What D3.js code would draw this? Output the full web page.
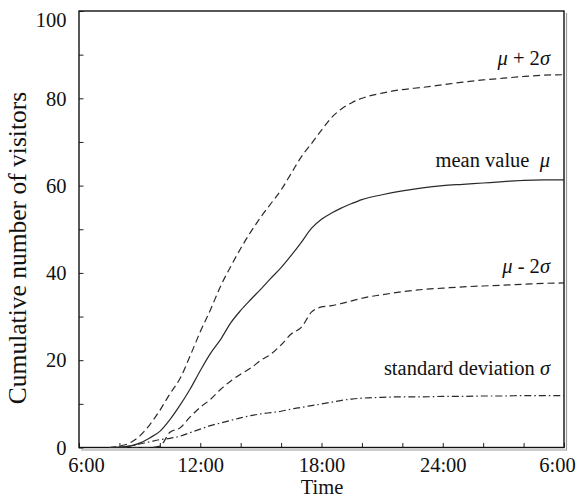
<!DOCTYPE html>
<html>
<head>
<meta charset="utf-8">
<script src="https://cdn.jsdelivr.net/npm/d3@7"></script>
<style>
  html, body { margin: 0; padding: 0; background: #fff; }
  #chart, #chart text { font-family: "Liberation Serif", "Tinos", "Times New Roman" !important; }
</style>
</head>
<body>
<svg id="chart" width="576" height="499"></svg>
<script>
// Time of day in hours (6 = 6:00, 30 = 6:00 next day)
const hours = [7.5, 8, 8.5, 9, 9.5, 10, 10.5, 11, 11.5, 12, 12.5, 13, 13.5, 14, 14.5, 15, 15.5, 16, 16.5, 17, 17.5, 18, 18.5, 19, 19.5, 20, 21, 22, 23, 24, 25, 26, 27, 28, 29, 30];

// Cumulative visitors: mean, mean ± 2 sigma, and sigma
const meanValues = [0, 0.1, 0.3, 1.0, 2.2, 3.7, 6.4, 9.7, 13.4, 17.6, 21.5, 24.7, 28.5, 31.4, 33.9, 36.3, 38.8, 41.2, 44.0, 47.0, 50.2, 52.3, 53.7, 54.9, 55.9, 56.8, 57.9, 58.8, 59.5, 60.0, 60.3, 60.6, 60.9, 61.2, 61.3, 61.3];
const upperValues = [0, 0.3, 1.0, 2.6, 5.2, 8.5, 12.3, 15.8, 21.0, 26.5, 31.5, 36.9, 41.4, 45.6, 49.4, 52.8, 55.9, 59.0, 62.8, 66.6, 69.6, 72.7, 75.6, 77.6, 79.0, 80.0, 81.2, 82.0, 82.5, 83.1, 83.7, 84.2, 84.6, 85.0, 85.3, 85.4];
const lowerValues = [0, 0, 0, 0, 0, 0.3, 3.5, 4.5, 7.0, 9.2, 11.0, 13.3, 15.2, 16.8, 18.2, 20.0, 21.4, 23.5, 26.0, 27.5, 31.0, 32.2, 32.5, 33.0, 33.6, 34.2, 35.0, 35.7, 36.2, 36.5, 36.8, 37.0, 37.2, 37.4, 37.6, 37.7];
const sigmaValues = [0, 0.1, 0.3, 0.8, 1.3, 1.8, 2.1, 2.6, 3.4, 4.2, 5.0, 5.6, 6.2, 6.8, 7.3, 7.7, 8.0, 8.3, 8.8, 9.2, 9.6, 10.0, 10.4, 10.8, 11.1, 11.3, 11.5, 11.6, 11.6, 11.7, 11.7, 11.8, 11.8, 11.9, 11.9, 11.9];

// Axis ticks and labels
const xTicks = [6, 8, 10, 12, 14, 16, 18, 20, 22, 24, 26, 28, 30];
const xTickLabels = { 6: "6:00", 12: "12:00", 18: "18:00", 24: "24:00", 30: "6:00" };
const yTicks = [0, 10, 20, 30, 40, 50, 60, 70, 80, 90, 100];
const yTickLabels = [0, 20, 40, 60, 80, 100];

const xTitle = "Time";
const yTitle = "Cumulative number of visitors";

const serif = '"Liberation Serif", "Tinos", "Times New Roman"';
const svg = d3.select("#chart");
const plotLeft = 79, plotRight = 564, plotTop = 11, plotBottom = 447.5;
const fontSize = 20.5;

const x = d3.scaleLinear().domain([6, 30]).range([plotLeft, plotRight]);
const y = d3.scaleLinear().domain([0, 100]).range([plotBottom, plotTop]);

// Shadow lines along the right and bottom of the frame
svg.append("path")
  .attr("d", `M${plotRight + 2.5},${plotTop + 2}V${plotBottom + 2.5}H${plotLeft + 2}`)
  .attr("fill", "none").attr("stroke", "#9a9a9a").attr("stroke-width", 1.2);

// X axis (ticks point inward)
const xAxis = svg.append("g")
  .attr("transform", `translate(0,${plotBottom})`)
  .call(d3.axisBottom(x).tickValues(xTicks).tickSizeInner(-4.5).tickSizeOuter(0)
    .tickFormat(d => xTickLabels[d] || ""));
xAxis.attr("font-family", null);
xAxis.select(".domain").remove();
xAxis.selectAll(".tick line").attr("stroke", "#222").attr("stroke-width", 1);
xAxis.selectAll(".tick text")
  .attr("y", 24.5).attr("dy", null)
  .attr("fill", "#111")
  .style("font-family", serif)
  .attr("font-size", fontSize)
  .attr("dx", d => d === 6 ? 7 : d === 30 ? -7 : 0);

// Y axis (ticks point inward)
const yAxis = svg.append("g")
  .attr("transform", `translate(${plotLeft},0)`)
  .call(d3.axisLeft(y).tickValues(yTicks).tickSizeInner(-4.5).tickSizeOuter(0)
    .tickFormat(d => yTickLabels.includes(d) ? d : ""));
yAxis.attr("font-family", null);
yAxis.select(".domain").remove();
yAxis.selectAll(".tick line").attr("stroke", "#222").attr("stroke-width", 1);
yAxis.selectAll(".tick text")
  .attr("x", -12.5).attr("dy", "0.33em")
  .attr("fill", "#111")
  .style("font-family", serif)
  .attr("font-size", fontSize);
// the top label sits a little lower so it stays inside the frame height
yAxis.selectAll(".tick text").filter(d => d === 100).attr("dy", "0.75em");

// Frame
svg.append("rect")
  .attr("x", plotLeft).attr("y", plotTop)
  .attr("width", plotRight - plotLeft).attr("height", plotBottom - plotTop)
  .attr("fill", "none").attr("stroke", "#111").attr("stroke-width", 1.4);

// Curves
const line = d3.line().x(d => x(d[0])).y(d => y(d[1])).curve(d3.curveMonotoneX);
const series = [
  { values: upperValues, dash: "7,4" },
  { values: meanValues, dash: null },
  { values: lowerValues, dash: "7,4" },
  { values: sigmaValues, dash: "7,3,1.5,3" }
];
svg.append("g").selectAll("path")
  .data(series)
  .join("path")
  .attr("d", s => line(hours.map((h, i) => [h, s.values[i]])))
  .attr("fill", "none")
  .attr("stroke", "#2a2a2a")
  .attr("stroke-width", 1.2)
  .attr("stroke-dasharray", s => s.dash);

// Curve labels
const labelX = 550;
function curveLabel(yPos, parts) {
  const t = svg.append("text")
    .attr("x", labelX).attr("y", yPos)
    .attr("text-anchor", "end")
    .attr("fill", "#111")
    .style("font-family", serif)
    .attr("font-size", fontSize);
  parts.forEach(p => {
    t.append("tspan").text(p.t)
      .style("font-family", serif)
      .attr("font-style", p.i ? "italic" : null);
  });
}
curveLabel(65, [{ t: "\u03bc", i: true }, { t: " + 2" }, { t: "\u03c3", i: true }]);
curveLabel(167, [{ t: "mean value\u2002" }, { t: "\u03bc", i: true }]);
curveLabel(273, [{ t: "\u03bc", i: true }, { t: " - 2" }, { t: "\u03c3", i: true }]);
curveLabel(375, [{ t: "standard deviation " }, { t: "\u03c3", i: true }]);

// Axis titles
svg.append("text")
  .attr("x", 322).attr("y", 494)
  .attr("text-anchor", "middle")
  .attr("fill", "#111")
  .style("font-family", serif)
  .attr("font-size", fontSize)
  .text(xTitle);

svg.append("text")
  .attr("transform", `translate(25.5,248) rotate(-90)`)
  .attr("text-anchor", "middle")
  .attr("fill", "#111")
  .style("font-family", serif)
  .attr("font-size", 25.5)
  .text(yTitle);
</script>
</body>
</html>
